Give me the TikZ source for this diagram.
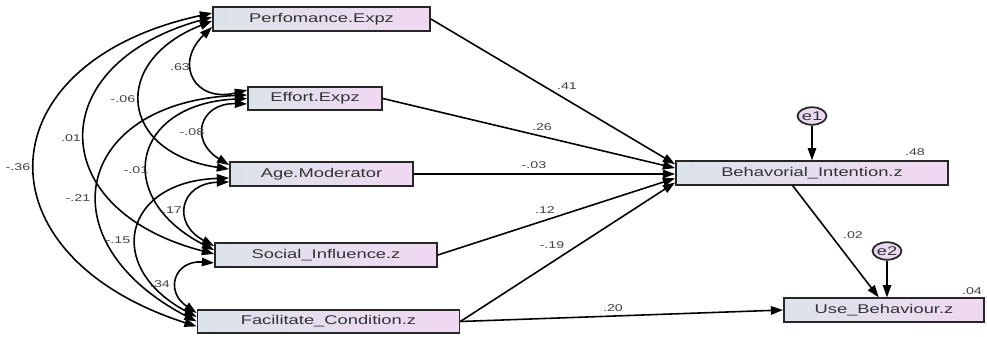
\documentclass[tikz,border=0pt]{standalone}
\usepackage{fontspec}
\newfontfamily\amosfont[FakeStretch=1.45]{Liberation Sans}
\usetikzlibrary{arrows.meta,shapes.geometric}
\definecolor{boxleft}{HTML}{DCE3EA}
\definecolor{boxright}{HTML}{F0D8F2}
\definecolor{errfill}{HTML}{EAD9F0}

\begin{document}
\begin{tikzpicture}[x=0.02cm, y=0.02cm, >={Triangle[length=7pt,width=4.8pt]},
    block/.style={rectangle, draw=black!85, line width=1pt, left color=boxleft, right color=boxright, minimum height=0.47cm, inner sep=0pt, text=black!80, font=\amosfont\fontsize{7.2}{8}\selectfont},
    err/.style={ellipse, draw=black!85, line width=1pt, fill=errfill, minimum width=0.56cm, minimum height=0.35cm, inner sep=0pt, text=black!80, font=\amosfont\fontsize{7.2}{8}\selectfont},
    coef/.style={inner sep=0pt, text=black!75, font=\amosfont\fontsize{5.6}{6}\selectfont},
    line/.style={draw, ->, line width=0.9pt},
    cov/.style={draw, <->, line width=0.9pt, bend right=75, looseness=1.9}]
    \useasboundingbox (0,0) rectangle (987,-337);

    \node [block, minimum width=4.34cm] (perf) at (321.5,-19) {Perfomance.Expz};
    \node [block, minimum width=2.68cm] (effort) at (315,-98.5) {Effort.Expz};
    \node [block, minimum width=3.66cm] (age) at (321.5,-174) {Age.Moderator};
    \node [block, minimum width=4.44cm] (social) at (326,-255) {Social\_Influence.z};
    \node [block, minimum width=5.24cm] (facil) at (328.5,-321.5) {Facilitate\_Condition.z};
    \node [block, minimum width=5.44cm] (intent) at (812,-173) {Behavorial\_Intention.z};
    \node [block, minimum width=4.0cm] (use) at (884,-310) {Use\_Behaviour.z};
    \node [err] (e1) at (812,-116) {e1};
    \node [err] (e2) at (887,-251) {e2};

    \path [cov] ([yshift=3.4pt]perf.west) to ([yshift=-2.8pt]facil.west);
    \path [cov] ([yshift=1.1pt]perf.west) to ([yshift=0.6pt]social.west);
    \path [cov] ([yshift=-1.1pt]perf.west) to ([yshift=2.8pt]age.west);
    \path [cov] ([yshift=-4.5pt]perf.west) to ([yshift=4.8pt]effort.west);
    \path [cov] ([yshift=2pt]effort.west) to ([yshift=0pt]facil.west);
    \path [cov] ([yshift=0pt]effort.west) to ([yshift=2.8pt]social.west);
    \path [cov] ([yshift=-3.1pt]effort.west) to ([yshift=5.1pt]age.west);
    \path [cov] ([yshift=-2.3pt]age.west) to ([yshift=2.6pt]facil.west);
    \path [cov] ([yshift=-4.5pt]age.west) to ([yshift=5.1pt]social.west);
    \path [cov] ([yshift=-4.5pt]social.west) to ([yshift=4.8pt]facil.west);

    \path [line] (perf.east) -- ([yshift=5pt]intent.west);
    \path [line] (effort.east) -- ([yshift=2.8pt]intent.west);
    \path [line] (age.east) -- (age.east -| intent.west);
    \path [line] (social.east) -- ([yshift=-3pt]intent.west);
    \path [line] (facil.east) -- ([yshift=-5.4pt]intent.west);
    \path [line] (facil.east) -- (use.west);
    \path [line] ([xshift=-11pt]intent.south) -- ([xshift=-3pt]use.north);
    \path [line] (e1.south) -- (intent.north);
    \path [line] (e2.south) -- (e2.south |- use.north);

    \node [coef] (c63) at (180,-67) {.63};
    \node [coef] (c06) at (123,-99) {-.06};
    \node [coef] (c01) at (71,-138) {.01};
    \node [coef] (c36) at (18,-167) {-.36};
    \node [coef] (c08) at (192,-132) {-.08};
    \node [coef] (cm01) at (136,-170) {-.01};
    \node [coef] (c21) at (78,-198) {-.21};
    \node [coef] (c17) at (172,-210) {.17};
    \node [coef] (c15) at (118,-240) {-.15};
    \node [coef] (c34) at (160,-284) {.34};
    \node [coef] (c41) at (567,-86) {.41};
    \node [coef] (c26) at (542,-127) {.26};
    \node [coef] (c03) at (534,-165) {-.03};
    \node [coef] (c12) at (545,-210) {.12};
    \node [coef] (c19) at (552,-245) {-.19};
    \node [coef] (c20) at (613,-308) {.20};
    \node [coef] (c02) at (853,-235) {.02};
    \node [coef] (c48) at (915,-152) {.48};
    \node [coef] (c04) at (972,-291) {.04};
\end{tikzpicture}
\end{document}
